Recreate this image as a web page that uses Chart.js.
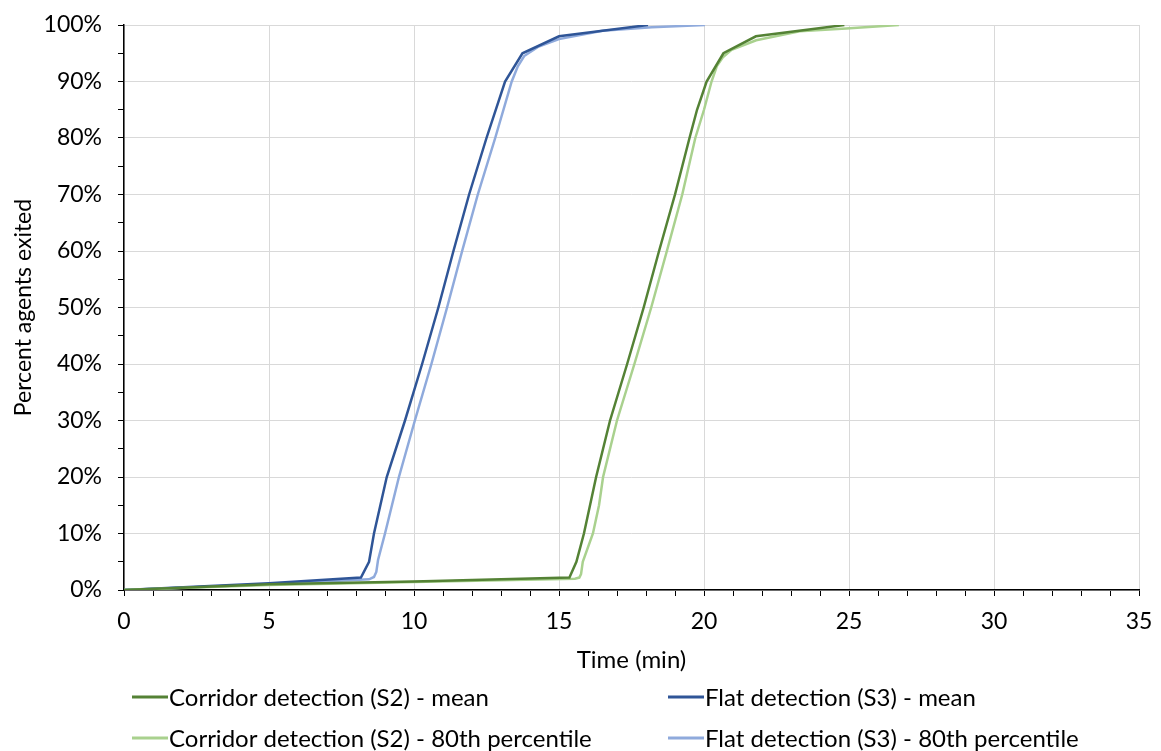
<!DOCTYPE html>
<html>
<head>
<meta charset="utf-8">
<script src="https://cdn.jsdelivr.net/npm/chart.js@4/dist/chart.umd.min.js"></script>
<style>
  html, body { margin: 0; padding: 0; background: #fff; }
  #wrap { width: 1161px; height: 751px; position: relative; }
</style>
</head>
<body>
<div id="wrap"><canvas id="exitChart" width="1161" height="751"></canvas></div>
<script>
// series labels
const seriesLabels = [
    "Corridor detection (S2) - mean",
    "Corridor detection (S2) - 80th percentile",
    "Flat detection (S3) - mean",
    "Flat detection (S3) - 80th percentile"
];

// time (min) / percent exited
const corridorMeanX = [0, 5, 10, 15.36, 15.6, 15.86, 16.28, 16.52, 16.76, 17.35, 17.92, 18.45, 19.0, 19.5, 19.76, 20.09, 20.67, 21.79, 24.84];
const corridorMeanY = [0, 1.0, 1.5, 2.2, 5, 10, 20, 25, 30, 40, 50, 60, 70, 80, 85, 90, 95, 98, 100];

const corridor80X = [0, 5, 10, 15.55, 15.7, 15.76, 15.82, 16.17, 16.38, 16.52, 17.0, 17.6, 18.18, 18.72, 19.25, 19.7, 20.0, 20.26, 20.45, 20.65, 20.95, 21.8, 23.3, 24.9, 26.72];
const corridor80Y = [0, 0.9, 1.4, 2.0, 2.2, 2.8, 5, 10, 15, 20, 30, 40, 50, 60, 70, 80, 85, 90, 92.8, 94.3, 95.6, 97.3, 98.9, 99.4, 100];

const flatMeanX = [0, 5, 8.17, 8.45, 8.62, 9.06, 9.69, 10.28, 10.84, 11.36, 11.9, 12.2, 12.5, 13.14, 13.74, 15.0, 18.07];
const flatMeanY = [0, 1.2, 2.2, 5, 10, 20, 30, 40, 50, 60, 70, 75, 80, 90, 95, 98, 100];

const flat80X = [0, 5, 8.45, 8.62, 8.7, 8.76, 9.0, 9.48, 10.03, 10.6, 11.14, 11.66, 12.2, 12.8, 13.37, 13.58, 13.8, 14.3, 15.0, 16.5, 18.2, 20.03];
const flat80Y = [0, 1.0, 1.9, 2.3, 3.2, 5.3, 10, 20, 30, 40, 50, 60, 70, 80, 90, 92.7, 94.5, 96.2, 97.5, 99.0, 99.6, 100];

// axis ticks
const xMin = 0, xMax = 35, xMajor = 5;
const yMin = 0, yMax = 100, yMajor = 10;

const colors = ["#548235", "#a9d18e", "#2f5597", "#8faadc"];
const FONT = "Lato, 'Liberation Sans', sans-serif";

function toPoints(xs, ys) {
    return xs.map((x, i) => ({ x: x, y: ys[i] }));
}

const seriesData = [
    toPoints(corridorMeanX, corridorMeanY),
    toPoints(corridor80X, corridor80Y),
    toPoints(flatMeanX, flatMeanY),
    toPoints(flat80X, flat80Y)
];

// legend in a 2x2 grid under the axis title
const gridLegend = {
    id: "gridLegend",
    afterDraw(chart) {
        const ctx = chart.ctx;
        const order = [0, 2, 1, 3]; // row by row: S2 mean, S3 mean, S2 80th, S3 80th
        const colX = [132, 668];
        const rowY = [697, 738];
        ctx.save();
        ctx.font = "24px " + FONT;
        ctx.textBaseline = "middle";
        ctx.fillStyle = "#000";
        order.forEach((dsIndex, i) => {
            const ds = chart.data.datasets[dsIndex];
            const x = colX[i % 2];
            const y = rowY[Math.floor(i / 2)];
            ctx.strokeStyle = ds.borderColor;
            ctx.lineWidth = 3;
            ctx.beginPath();
            ctx.moveTo(x, y);
            ctx.lineTo(x + 36, y);
            ctx.stroke();
            ctx.fillText(ds.label, x + 37, y + 1);
        });
        ctx.restore();
    }
};

const ctx = document.getElementById("exitChart").getContext("2d");
window.exitChart = new Chart(ctx, {
    type: "line",
    data: {
        datasets: seriesData.map((pts, i) => ({
            label: seriesLabels[i],
            data: pts,
            borderColor: colors[i],
            backgroundColor: colors[i],
            borderWidth: 2.5,
            pointRadius: 0,
            fill: false,
            tension: 0
        }))
    },
    options: {
        responsive: false,
        animation: false,
        layout: { padding: { left: 10, right: 22, top: 25, bottom: 76 } },
        plugins: {
            legend: { display: false },
            tooltip: { enabled: false }
        },
        scales: {
            x: {
                type: "linear",
                min: xMin,
                max: xMax,
                title: {
                    display: true,
                    text: "Time (min)",
                    color: "#000",
                    font: { family: FONT, size: 24 },
                    padding: { top: 2, bottom: 0 }
                },
                ticks: {
                    stepSize: 1,
                    autoSkip: false,
                    maxRotation: 0,
                    color: "#000",
                    padding: 12,
                    font: { family: FONT, size: 23 },
                    callback: (v) => (v % xMajor === 0 ? v : "")
                },
                grid: {
                    color: (c) => (c.tick && c.tick.value % xMajor === 0 ? "#d9d9d9" : "rgba(0,0,0,0)"),
                    tickColor: "#000",
                    tickLength: 6,
                    lineWidth: 1
                },
                border: { display: true, color: "#000", width: 1.5 },
                afterFit: (scale) => { scale.height = 85; scale.paddingLeft = 0; scale.paddingRight = 0; }
            },
            y: {
                min: yMin,
                max: yMax,
                title: {
                    display: true,
                    text: "Percent agents exited",
                    color: "#000",
                    font: { family: FONT, size: 23 },
                    padding: { top: 0, bottom: 0 }
                },
                ticks: {
                    stepSize: 5,
                    autoSkip: false,
                    color: "#000",
                    padding: 16,
                    font: { family: FONT, size: 23 },
                    callback: (v) => (v % yMajor === 0 ? v + "%" : "")
                },
                grid: {
                    color: (c) => (c.tick && c.tick.value % yMajor === 0 ? "#d9d9d9" : "rgba(0,0,0,0)"),
                    tickColor: "#000",
                    tickLength: 6,
                    lineWidth: 1
                },
                border: { display: true, color: "#000", width: 1.5 },
                afterFit: (scale) => { scale.width = 114; scale.paddingTop = 0; scale.paddingBottom = 0; }
            }
        }
    },
    plugins: [gridLegend]
});
</script>
</body>
</html>
